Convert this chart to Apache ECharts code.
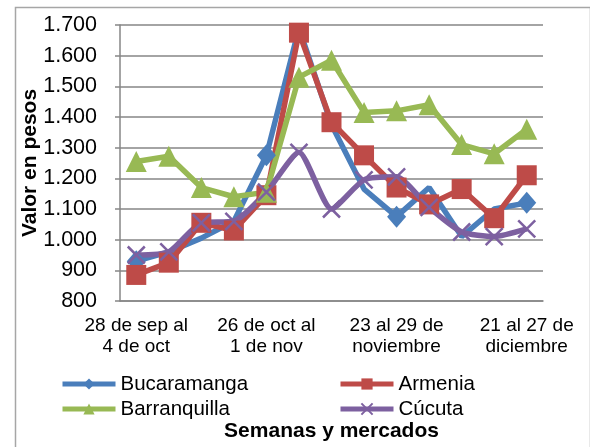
<!DOCTYPE html>
<html>
<head>
<meta charset="utf-8">
<script src="https://cdn.jsdelivr.net/npm/echarts@6/dist/echarts.min.js"></script>
<style>
html,body{margin:0;padding:0;background:#fff;}
#chart{width:590px;height:447px;}
</style>
</head>
<body>
<div id="chart"></div>
<script>
const categories = [
  '28 de sep al\n4 de oct', '5 al 11 de\noctubre', '12 al 18 de\noctubre', '19 al 25 de\noctubre',
  '26 de oct al\n1 de nov', '2 al 8 de\nnoviembre', '9 al 15 de\nnoviembre', '16 al 22 de\nnoviembre',
  '23 al 29 de\nnoviembre', '30 de nov al\n6 de dic', '7 al 13 de\ndiciembre', '14 al 20 de\ndiciembre',
  '21 al 27 de\ndiciembre'
];
const bucaramanga = [930, 960, 1005, 1060, 1275, 1690, 1375, 1165, 1075, 1170, 1010, 1100, 1120];
const armenia = [885, 925, 1055, 1030, 1145, 1675, 1383, 1275, 1170, 1115, 1165, 1070, 1210];
const barranquilla = [1255, 1272, 1170, 1140, 1155, 1530, 1585, 1415, 1420, 1440, 1310, 1280, 1360];
const cucuta = [950, 960, 1055, 1060, 1155, 1285, 1100, 1195, 1205, 1105, 1025, 1010, 1035];
const yMin = 800, yMax = 1700, yStep = 100;

function fmt(v){
  if (v >= 1000) return Math.floor(v/1000) + '.' + String(v % 1000).padStart(3, '0');
  return String(v);
}

const chart = echarts.init(document.getElementById('chart'), null, {renderer: 'canvas'});
const font = 'Liberation Sans, Arial, sans-serif';
const mk = (name, data, color, symbol, size, extra) => Object.assign({
  name, type: 'line', data, symbol, symbolSize: size,
  lineStyle: {color, width: 5.5},
  itemStyle: {color},
  emphasis: {disabled: true},
  animation: false
}, extra || {});

const legendText = {color: '#000', fontSize: 20.5, fontFamily: font, lineHeight: 22, padding: [0,0,0,0]};

chart.setOption({
  backgroundColor: '#fff',
  animation: false,
  graphic: [{
    type: 'rect', left: 13, top: 5, silent: true,
    shape: {width: 575, height: 470},
    style: {fill: 'none', stroke: '#a6a6a6', lineWidth: 1.5}
  }],
  grid: {left: 120, right: 47, top: 25, bottom: 142.5, containLabel: false},
  xAxis: {
    type: 'category', data: categories, boundaryGap: true,
    axisLine: {lineStyle: {color: '#868686', width: 1.5}},
    axisTick: {show: false},
    axisLabel: {interval: 3, color: '#000', fontSize: 19, fontFamily: font, lineHeight: 21.5, margin: 14},
    name: 'Semanas y mercados', nameLocation: 'middle', nameGap: 120, nameMoveOverlap: false,
    nameTextStyle: {color: '#000', fontSize: 21, fontWeight: 'bold', fontFamily: font}
  },
  yAxis: {
    type: 'value', min: yMin, max: yMax, interval: yStep,
    axisLine: {show: true, lineStyle: {color: '#868686', width: 1.5}},
    axisTick: {show: true, length: 5, lineStyle: {color: '#868686', width: 1.5}},
    splitLine: {lineStyle: {color: '#868686', width: 1.5}},
    axisLabel: {formatter: fmt, color: '#000', fontSize: 21.5, fontFamily: font, margin: 23},
    name: 'Valor en pesos', nameLocation: 'middle', nameGap: 79, nameRotate: 90, nameMoveOverlap: false,
    nameTextStyle: {color: '#000', fontSize: 21, fontWeight: 'bold', fontFamily: font}
  },
  legend: [{
    data: ['Bucaramanga', 'Barranquilla'], orient: 'vertical', left: 60, top: 373, padding: 0,
    itemWidth: 53, itemHeight: 14, itemGap: 3, textStyle: legendText,
    lineStyle: {width: 5}
  }, {
    data: ['Armenia', 'Cúcuta'], orient: 'vertical', left: 338, top: 373, padding: 0,
    itemWidth: 53, itemHeight: 14, itemGap: 3, textStyle: legendText,
    lineStyle: {width: 5}
  }],
  series: [
    mk('Bucaramanga', bucaramanga, '#4a7ebb', 'diamond', [19, 22]),
    mk('Armenia', armenia, '#be4b48', 'rect', 20),
    mk('Barranquilla', barranquilla, '#98b954', 'triangle', 21),
    mk('Cúcuta', cucuta, '#7d60a0', 'path://M0,0L10,10M10,0L0,10', 17, {
      smooth: 0.2,
      itemStyle: {color: '#7d60a0', borderColor: '#7d60a0', borderWidth: 2.5}
    })
  ]
});
</script>
</body>
</html>
